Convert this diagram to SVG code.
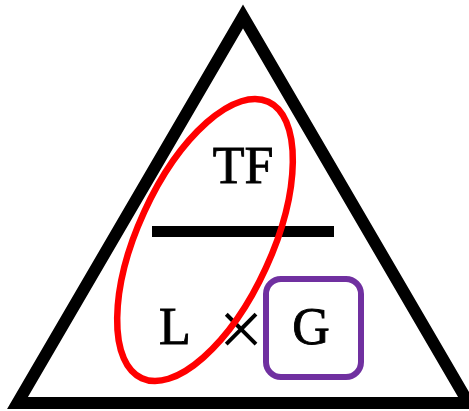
<svg xmlns="http://www.w3.org/2000/svg" width="469" height="411" viewBox="0 0 469 411">
<style>
.t{font-family:"Liberation Serif","Times New Roman",serif;font-size:52px;fill:#000;stroke:#000;stroke-width:0.9}
.x{font-family:"Liberation Serif","Times New Roman",serif;font-size:80px;fill:#000}
</style>
<rect width="469" height="411" fill="#fff"/>
<g id="triangle"><polygon points="243,16.5 17.5,403 468.5,403" fill="none" stroke="#000" stroke-width="12" stroke-linejoin="miter" stroke-miterlimit="10"/></g>
<g id="bar"><rect x="152" y="226" width="182" height="11" fill="#000"/></g>
<g id="tf"><text class="t" x="243" y="183" text-anchor="middle">TF</text></g>
<g id="l"><text class="t" x="175" y="344" text-anchor="middle">L</text></g>
<g id="times"><text class="x" x="241" y="356" text-anchor="middle">×</text></g>
<g id="g"><text class="t" x="311" y="344" text-anchor="middle">G</text></g>
<g id="ellipse"><ellipse cx="205" cy="240" rx="67" ry="152" transform="rotate(24.6 205 240)" fill="none" stroke="#FF0000" stroke-width="6.5"/></g>
<g id="box"><rect x="266" y="279" width="95" height="98" rx="15" fill="none" stroke="#7030A0" stroke-width="6"/></g>
</svg>
